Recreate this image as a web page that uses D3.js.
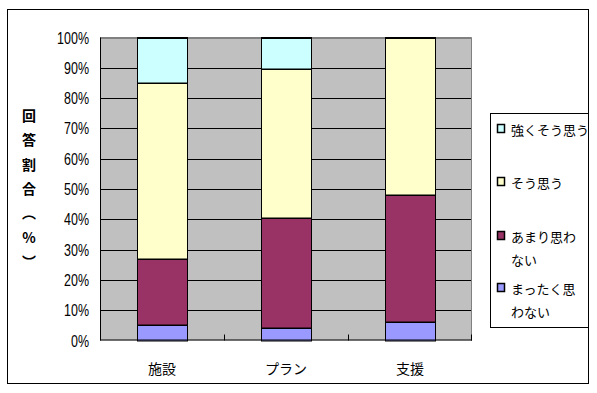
<!DOCTYPE html>
<html><head><meta charset="utf-8">
<script src="https://cdn.jsdelivr.net/npm/d3@7"></script>
<style>body{margin:0;background:#fff}svg{display:block}</style>
</head><body>
<svg id="c" width="597" height="393"></svg>
<script>
const categories = ["施設", "プラン", "支援"];
const seriesNames = ["まったく思わない", "あまり思わない", "そう思う", "強くそう思う"];
const mattaku = [5, 4, 6];
const amari = [22, 36.5, 42];
const sou = [58, 49, 52];
const tsuyoku = [15, 10.5, 0];
const colors = ["#9999FF", "#993366", "#FFFFCC", "#CCFFFF"];
const yTicks = [0, 10, 20, 30, 40, 50, 60, 70, 80, 90, 100];
const legendLines = [["強くそう思う"], ["そう思う"], ["あまり思わ", "ない"], ["まったく思", "わない"]];
const yTitle = ["回", "答", "割", "合", "︵", "%", "︶"];

const svg = d3.select("#c");
const font = "'Noto Sans CJK JP', sans-serif";

// outer border
svg.append("rect").attr("x", 7.5).attr("y", 9.5).attr("width", 581).attr("height", 374)
  .attr("fill", "#fff").attr("stroke", "#000");

const L = 100, R = 472, T = 37.5, B = 340.5;
const x = d3.scaleBand().domain(categories).range([L, R]).paddingInner(0.6).paddingOuter(0.3);
const y = d3.scaleLinear().domain([0, 100]).range([B, T]);

// plot background
svg.append("rect").attr("x", L).attr("y", T).attr("width", R - L).attr("height", B - T).attr("fill", "#C0C0C0");
// top/right border gray
svg.append("path").attr("d", `M${L},${T}H${R - 0.5}V${B}`).attr("fill", "none").attr("stroke", "#808080");

// gridlines
svg.append("g").selectAll("line").data(yTicks.slice(1)).join("line")
  .attr("x1", L).attr("x2", R - 1)
  .attr("y1", d => Math.round(y(d)) + 0.5).attr("y2", d => Math.round(y(d)) + 0.5)
  .attr("stroke", d => d === 100 ? "#808080" : "#000");

// tick labels
svg.append("g").selectAll("text").data(yTicks).join("text")
  .attr("transform", d => `translate(89,${Math.round(y(d)) + 0.5}) scale(0.78,1)`)
  .attr("text-anchor", "end").attr("dominant-baseline", "central")
  .attr("font-family", "'Liberation Sans', sans-serif").attr("font-size", 16)
  .text(d => d + "%");

// stacked bars
const table = categories.map((c, i) => ({cat: c, [seriesNames[0]]: mattaku[i], [seriesNames[1]]: amari[i], [seriesNames[2]]: sou[i], [seriesNames[3]]: tsuyoku[i]}));
const stacked = d3.stack().keys(seriesNames)(table);
const bw = Math.round(x.bandwidth());
stacked.forEach((s, si) => {
  const g = svg.append("g");
  s.forEach(d => {
    if (d[1] - d[0] <= 0) return;
    const x0 = Math.round(x(d.data.cat)) + 0.5;
    const y0 = Math.round(y(d[1])), y1 = Math.round(y(d[0]));
    g.append("rect").attr("x", x0).attr("y", y0).attr("width", bw).attr("height", y1 - y0)
      .attr("fill", colors[si]).attr("stroke", "#000").attr("stroke-width", 1);
    g.append("line").attr("x1", x0 - 0.5).attr("x2", x0 + bw + 0.5).attr("y1", y0).attr("y2", y0)
      .attr("stroke", "#000").attr("stroke-width", 2);
  });
});

// axes lines
svg.append("line").attr("x1", L + 0.5).attr("x2", L + 0.5).attr("y1", T).attr("y2", B).attr("stroke", "#000");
svg.append("line").attr("x1", L).attr("x2", R).attr("y1", B - 0.5).attr("y2", B - 0.5).attr("stroke", "#000");
// category ticks
const step = x.step();
const tickXs = categories.map((c, i) => x(c) + x.bandwidth() + step * 0.6 / 2 * (i < categories.length - 1 ? 1 : 1.0));
svg.append("g").selectAll("line").data(categories.slice(0, -1)).join("line")
  .attr("x1", d => Math.round(x(d) + x.bandwidth() + step * 0.3) + 0.5)
  .attr("x2", d => Math.round(x(d) + x.bandwidth() + step * 0.3) + 0.5)
  .attr("y1", B - 6).attr("y2", B).attr("stroke", "#000");
svg.append("line").attr("x1", R - 0.5).attr("x2", R - 0.5).attr("y1", B - 6).attr("y2", B).attr("stroke", "#000");

// category labels
svg.append("g").selectAll("text").data(categories).join("text")
  .attr("x", d => x(d) + x.bandwidth() / 2).attr("y", 368)
  .attr("text-anchor", "middle").attr("dominant-baseline", "central")
  .attr("font-family", font).attr("font-size", 14).text(d => d);

// y title (vertical)
svg.append("g").selectAll("text").data(yTitle).join("text")
  .attr("x", 29).attr("y", (d, i) => 115 + i * 24.3)
  .attr("text-anchor", "middle").attr("dominant-baseline", "central")
  .attr("font-family", font).attr("font-size", 14).attr("font-weight", "bold").text(d => d);

// legend
svg.append("rect").attr("x", 490.5).attr("y", 113.5).attr("width", 98).attr("height", 214)
  .attr("fill", "#fff").attr("stroke", "#000");
const legendY = [129, 182, 236, 288];
const legendColors = colors.slice().reverse();
legendLines.forEach((lines, i) => {
  svg.append("rect").attr("x", 497.5).attr("y", legendY[i] - 4.5).attr("width", 7).attr("height", 8)
    .attr("fill", legendColors[i]).attr("stroke", "#000").attr("stroke-width", 1.5);
  lines.forEach((t, j) => {
    svg.append("text").attr("x", 511).attr("y", legendY[i] + j * 23)
      .attr("dominant-baseline", "central").attr("font-family", font).attr("font-size", 13).text(t);
  });
});
</script>
</body></html>
